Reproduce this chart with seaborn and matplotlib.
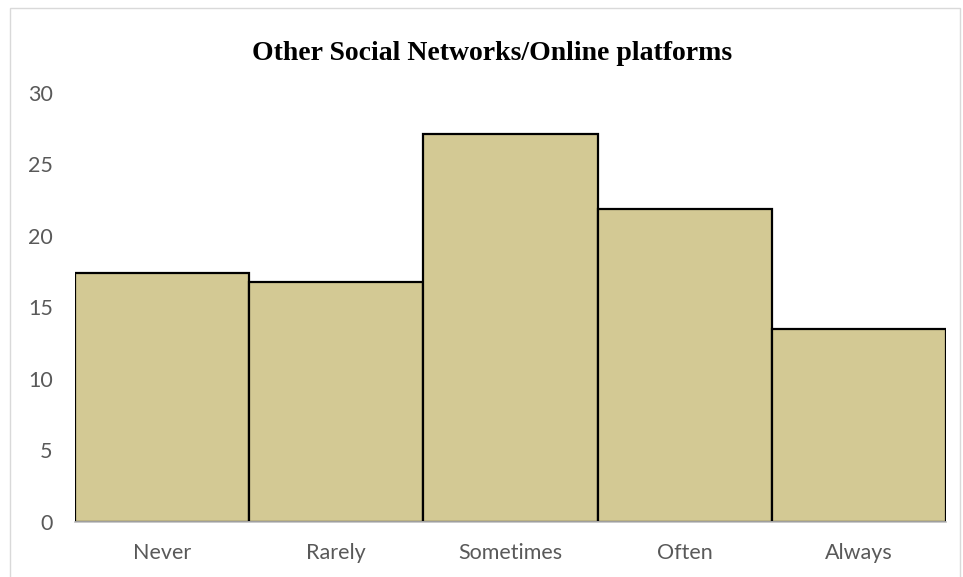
import matplotlib
matplotlib.use("Agg")
import matplotlib.pyplot as plt
import seaborn as sns
import pandas as pd
from matplotlib.patches import Rectangle

categories = ["Never", "Rarely", "Sometimes", "Often", "Always"]
values = [17.4, 16.8, 27.1, 21.9, 13.5]
yticks = [0, 5, 10, 15, 20, 25, 30]
title = "Other Social Networks/Online platforms"

df = pd.DataFrame({"category": categories, "value": values})

sns.set_style("white")
plt.rcParams["font.family"] = ["Lato", "DejaVu Sans"]

fig = plt.figure(figsize=(9.63, 5.77), dpi=100)
ax = fig.add_axes([75 / 963, 1 - 521.7 / 577, (946 - 75) / 963, (521.7 - 93) / 577])

sns.barplot(data=df, x="category", y="value", color="#D3C994", saturation=1,
            width=1.0, edgecolor="black", linewidth=1.6, ax=ax)

ax.set_xlim(-0.5, len(categories) - 0.5)
ax.set_ylim(0, 30)
ax.set_yticks(yticks)
ax.set_yticklabels([str(t) for t in yticks])
ax.set_xlabel("")
ax.set_ylabel("")
ax.tick_params(axis="both", length=0, labelsize=15.5, colors="#595959")
ax.tick_params(axis="x", pad=15)
ax.tick_params(axis="y", pad=16)

for side in ["left", "right", "top"]:
    ax.spines[side].set_visible(False)
ax.spines["bottom"].set_color("#BFBFBF")
ax.spines["bottom"].set_linewidth(1.2)
ax.spines["bottom"].set_zorder(5)

fig.text(492 / 963, 1 - 53 / 577, title, ha="center", va="center",
         fontsize=20, fontweight="bold", family="Liberation Serif", color="black")

# light frame around the chart area
fig.patches.append(Rectangle((10 / 963, -0.01), 950 / 963, 1 - 8 / 577 + 0.01,
                             transform=fig.transFigure, fill=False,
                             edgecolor="#D9D9D9", linewidth=1.0))

fig.savefig("out.png", dpi=100)
